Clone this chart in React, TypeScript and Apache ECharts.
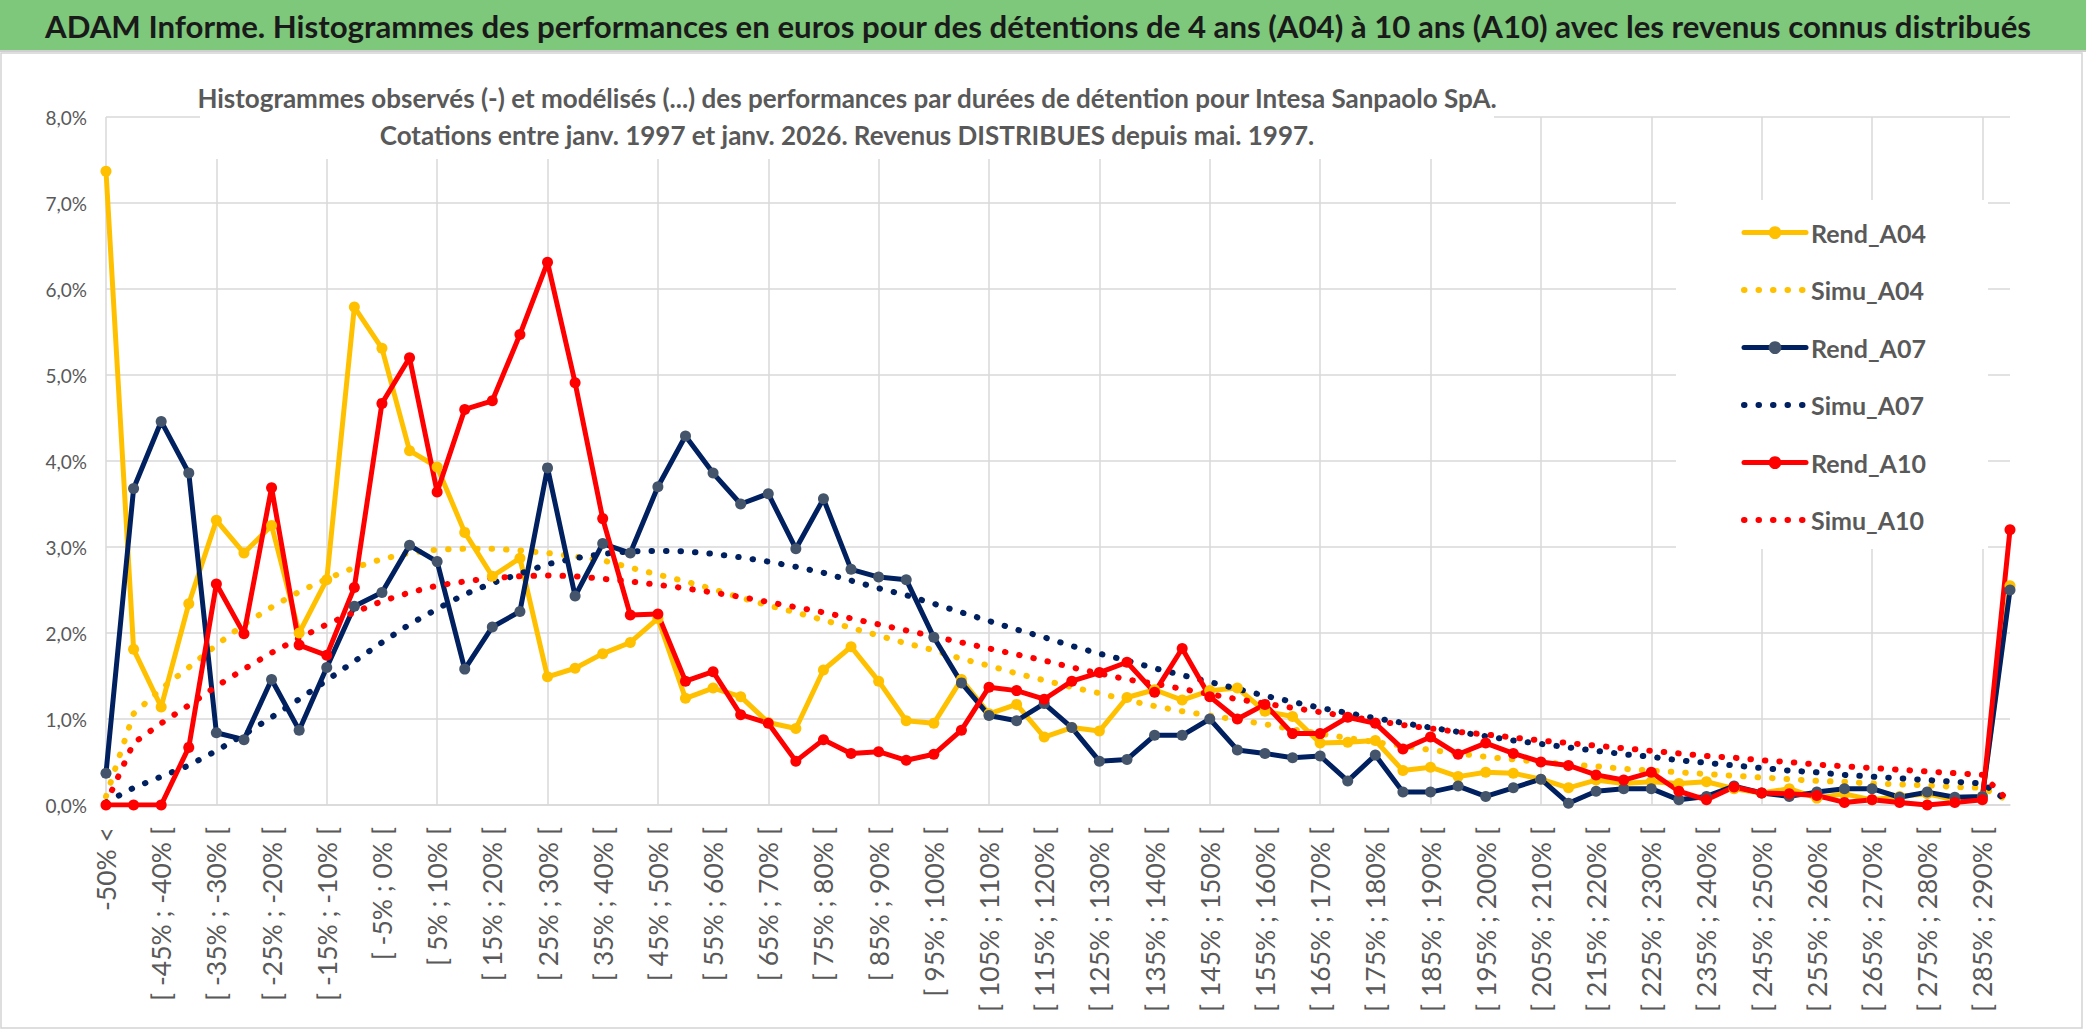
import React, { useEffect, useRef } from 'react';
import * as echarts from 'echarts';

const categories = [
  '-50% <', '[ -50% ; -45% [', '[ -45% ; -40% [', '[ -40% ; -35% [', '[ -35% ; -30% [', '[ -30% ; -25% [',
  '[ -25% ; -20% [', '[ -20% ; -15% [', '[ -15% ; -10% [', '[ -10% ; -5% [', '[ -5% ; 0% [', '[ 0% ; 5% [',
  '[ 5% ; 10% [', '[ 10% ; 15% [', '[ 15% ; 20% [', '[ 20% ; 25% [', '[ 25% ; 30% [', '[ 30% ; 35% [',
  '[ 35% ; 40% [', '[ 40% ; 45% [', '[ 45% ; 50% [', '[ 50% ; 55% [', '[ 55% ; 60% [', '[ 60% ; 65% [',
  '[ 65% ; 70% [', '[ 70% ; 75% [', '[ 75% ; 80% [', '[ 80% ; 85% [', '[ 85% ; 90% [', '[ 90% ; 95% [',
  '[ 95% ; 100% [', '[ 100% ; 105% [', '[ 105% ; 110% [', '[ 110% ; 115% [', '[ 115% ; 120% [', '[ 120% ; 125% [',
  '[ 125% ; 130% [', '[ 130% ; 135% [', '[ 135% ; 140% [', '[ 140% ; 145% [', '[ 145% ; 150% [', '[ 150% ; 155% [',
  '[ 155% ; 160% [', '[ 160% ; 165% [', '[ 165% ; 170% [', '[ 170% ; 175% [', '[ 175% ; 180% [', '[ 180% ; 185% [',
  '[ 185% ; 190% [', '[ 190% ; 195% [', '[ 195% ; 200% [', '[ 200% ; 205% [', '[ 205% ; 210% [', '[ 210% ; 215% [',
  '[ 215% ; 220% [', '[ 220% ; 225% [', '[ 225% ; 230% [', '[ 230% ; 235% [', '[ 235% ; 240% [', '[ 240% ; 245% [',
  '[ 245% ; 250% [', '[ 250% ; 255% [', '[ 255% ; 260% [', '[ 260% ; 265% [', '[ 265% ; 270% [', '[ 270% ; 275% [',
  '[ 275% ; 280% [', '[ 280% ; 285% [', '[ 285% ; 290% [', '> 290%',
];

const rendA04 = [
  7.37, 1.81, 1.14, 2.34, 3.31, 2.93, 3.25, 2.0, 2.62, 5.79,
  5.31, 4.12, 3.93, 3.17, 2.66, 2.87, 1.49, 1.59, 1.76, 1.89,
  2.17, 1.24, 1.36, 1.26, 0.96, 0.89, 1.57, 1.84, 1.44, 0.98,
  0.95, 1.46, 1.06, 1.17, 0.79, 0.9, 0.86, 1.25, 1.34, 1.22,
  1.33, 1.36, 1.09, 1.03, 0.72, 0.73, 0.75, 0.4, 0.44, 0.33,
  0.38, 0.37, 0.3, 0.2, 0.29, 0.25, 0.27, 0.25, 0.27, 0.19,
  0.14, 0.19, 0.08, 0.13, 0.06, 0.1, 0.13, 0.06, 0.1, 2.55,
];
const simuA04 = [
  0.1, 1.06, 1.35, 1.6, 1.86, 2.1, 2.3, 2.48, 2.63, 2.76,
  2.86, 2.93, 2.97, 2.98, 2.98, 2.96, 2.93, 2.89, 2.845, 2.76,
  2.68, 2.6, 2.51, 2.41, 2.32, 2.24, 2.15, 2.06, 1.97, 1.88,
  1.8, 1.7, 1.62, 1.53, 1.45, 1.37, 1.3, 1.22, 1.15, 1.09,
  1.04, 0.99, 0.94, 0.88, 0.83, 0.78, 0.73, 0.69, 0.64, 0.6,
  0.56, 0.53, 0.5, 0.47, 0.45, 0.42, 0.4, 0.38, 0.36, 0.34,
  0.32, 0.3, 0.28, 0.27, 0.25, 0.24, 0.23, 0.21, 0.2, 0.04,
];
const rendA07 = [
  0.37, 3.68, 4.46, 3.86, 0.84, 0.76, 1.46, 0.87, 1.6, 2.31,
  2.47, 3.02, 2.83, 1.58, 2.07, 2.25, 3.92, 2.43, 3.04, 2.93,
  3.7, 4.29, 3.86, 3.5, 3.62, 2.98, 3.56, 2.74, 2.65, 2.62,
  1.95, 1.42, 1.04, 0.98, 1.18, 0.9, 0.51, 0.53, 0.81, 0.81,
  1.0, 0.64, 0.6, 0.55, 0.57, 0.28, 0.58, 0.15, 0.15, 0.22,
  0.1, 0.2, 0.3, 0.02, 0.16, 0.19, 0.19, 0.06, 0.1, 0.22,
  0.14, 0.1, 0.15, 0.19, 0.19, 0.09, 0.15, 0.09, 0.1, 2.5,
];
const simuA07 = [
  0.03, 0.2, 0.33, 0.46, 0.63, 0.82, 1.02, 1.23, 1.45, 1.67,
  1.89, 2.1, 2.28, 2.45, 2.58, 2.69, 2.8, 2.87, 2.92, 2.95,
  2.955, 2.95, 2.92, 2.88, 2.83, 2.77, 2.7, 2.61, 2.52, 2.44,
  2.34, 2.24, 2.14, 2.04, 1.95, 1.85, 1.76, 1.68, 1.59, 1.51,
  1.43, 1.35, 1.27, 1.2, 1.13, 1.07, 1.01, 0.955, 0.9, 0.85,
  0.8, 0.75, 0.71, 0.67, 0.63, 0.59, 0.56, 0.52, 0.49, 0.46,
  0.43, 0.4, 0.38, 0.35, 0.33, 0.31, 0.29, 0.27, 0.25, 0.03,
];
const rendA10 = [
  0, 0, 0, 0.67, 2.57, 1.99, 3.69, 1.86, 1.74, 2.53,
  4.67, 5.2, 3.64, 4.6, 4.7, 5.47, 6.31, 4.91, 3.33, 2.21,
  2.22, 1.44, 1.55, 1.05, 0.95, 0.51, 0.76, 0.6, 0.62, 0.52,
  0.59, 0.87, 1.37, 1.33, 1.23, 1.44, 1.54, 1.66, 1.31, 1.82,
  1.26, 1.0, 1.17, 0.83, 0.83, 1.02, 0.95, 0.65, 0.79, 0.59,
  0.72, 0.6, 0.5, 0.46, 0.35, 0.29, 0.38, 0.16, 0.06, 0.21,
  0.14, 0.13, 0.11, 0.03, 0.06, 0.03, 0.0, 0.03, 0.06, 3.2,
];
const simuA10 = [
  0.02, 0.72, 0.95, 1.16, 1.38, 1.58, 1.77, 1.94, 2.1, 2.24,
  2.37, 2.47, 2.55, 2.6, 2.64, 2.66, 2.67, 2.66, 2.63, 2.6,
  2.56, 2.52, 2.47, 2.42, 2.36, 2.3, 2.24, 2.17, 2.1, 2.03,
  1.96, 1.89, 1.82, 1.75, 1.68, 1.6, 1.53, 1.46, 1.41, 1.35,
  1.29, 1.23, 1.18, 1.13, 1.08, 1.03, 0.98, 0.93, 0.89, 0.85,
  0.82, 0.785, 0.75, 0.72, 0.69, 0.66, 0.63, 0.6, 0.57, 0.55,
  0.52, 0.5, 0.47, 0.45, 0.43, 0.41, 0.39, 0.37, 0.35, 0.03,
];

const yTicks = { min: 0, max: 8, interval: 1 };

const TITLE = 'ADAM Informe. Histogrammes des performances en euros pour des détentions de 4 ans (A04) à 10 ans (A10) avec les revenus connus distribués';
const SUB1 = 'Histogrammes observés (-) et modélisés (...) des performances par durées de détention pour Intesa Sanpaolo SpA.';
const SUB2 = 'Cotations entre janv. 1997 et janv. 2026. Revenus DISTRIBUES depuis mai. 1997.';

const FONT = 'Lato, "Open Sans", "Noto Sans", sans-serif';
const GRIDC = '#d9d9d9';
const TXT = '#595959';
const GOLD = '#FFC000';
const NAVY = '#002060';
const NAVY_MARK = '#44546A';
const RED = '#FF0000';

const fmtPct = (v: number) => v.toFixed(1).replace('.', ',') + '%';

function rendSeries(name: string, data: number[], lineColor: string, markColor: string) {
  return {
    name,
    type: 'line',
    data,
    symbol: 'circle',
    symbolSize: 11,
    showSymbol: true,
    lineStyle: { color: lineColor, width: 5, join: 'round', cap: 'round' },
    itemStyle: { color: markColor },
    z: 3,
  };
}
function simuSeries(name: string, data: number[], color: string) {
  return {
    name,
    type: 'line',
    data,
    symbol: 'none',
    showSymbol: false,
    lineStyle: { color, width: 6, type: [0.5, 14], cap: 'round', join: 'round' },
    itemStyle: { color },
    z: 3,
  };
}

export default function App() {
  const ref = useRef<HTMLDivElement>(null);
  useEffect(() => {
    document.body.style.margin = '0';
    const chart = echarts.init(ref.current as HTMLDivElement, null, { renderer: 'svg' });
    const option: any = {
      animation: false,
      backgroundColor: '#ffffff',
      textStyle: { fontFamily: FONT },
      grid: { left: 106, right: 76, top: 117, bottom: 226, containLabel: false },
      xAxis: {
        type: 'category',
        data: categories,
        boundaryGap: false,
        axisLine: { show: true, lineStyle: { color: GRIDC, width: 1.5 } },
        axisTick: { show: false },
        axisLabel: {
          interval: 1,
          rotate: 90,
          margin: 22,
          fontSize: 26.5,
          color: TXT,
          fontFamily: FONT,
        },
        splitLine: { show: true, interval: 3, lineStyle: { color: GRIDC, width: 1.5 } },
      },
      yAxis: {
        type: 'value',
        min: yTicks.min,
        max: yTicks.max,
        interval: yTicks.interval,
        axisLine: { show: false },
        axisTick: { show: false },
        axisLabel: { formatter: fmtPct, fontSize: 19, color: TXT, margin: 19, fontFamily: FONT },
        splitLine: { show: true, lineStyle: { color: GRIDC, width: 1.5 } },
      },
      legend: {
        orient: 'vertical',
        left: 1741,
        top: 217.6,
        padding: 0,
        itemWidth: 62,
        itemHeight: 16,
        itemGap: 27.5,
        textStyle: { fontSize: 25, fontWeight: 'bold', color: TXT, lineHeight: 30, fontFamily: FONT },
        data: [
          { name: 'Rend_A04', lineStyle: { width: 5 } },
          { name: 'Simu_A04', lineStyle: { width: 6 }, itemStyle: { opacity: 0 } },
          { name: 'Rend_A07', lineStyle: { width: 5 } },
          { name: 'Simu_A07', lineStyle: { width: 6 }, itemStyle: { opacity: 0 } },
          { name: 'Rend_A10', lineStyle: { width: 5 } },
          { name: 'Simu_A10', lineStyle: { width: 6 }, itemStyle: { opacity: 0 } },
        ],
      },
      graphic: {
        elements: [
          { type: 'rect', z: 1, shape: { x: 0, y: 0, width: 2086, height: 50 }, style: { fill: '#7dc87b' } },
          { type: 'line', z: 1, shape: { x1: 0, y1: 51, x2: 2086, y2: 51 }, style: { stroke: '#cfcfcf', lineWidth: 2 } },
          { type: 'rect', z: 1, shape: { x: 1, y: 53, width: 2081, height: 975 }, style: { fill: 'none', stroke: '#d4d4d4', lineWidth: 1.5 } },
          {
            type: 'text', z: 2, x: 1038, y: 26,
            style: { text: TITLE, fontSize: 31.2, fontWeight: 'bold', fontFamily: FONT, fill: '#1a1a1a', align: 'center', verticalAlign: 'middle' },
          },
          { type: 'rect', z: 1, shape: { x: 200, y: 108, width: 1294, height: 51 }, style: { fill: '#ffffff' } },
          {
            type: 'text', z: 2, x: 847, y: 98,
            style: { text: SUB1, fontSize: 26, fontWeight: 'bold', fontFamily: FONT, fill: TXT, align: 'center', verticalAlign: 'middle' },
          },
          {
            type: 'text', z: 2, x: 847, y: 135,
            style: { text: SUB2, fontSize: 26, fontWeight: 'bold', fontFamily: FONT, fill: TXT, align: 'center', verticalAlign: 'middle' },
          },
          { type: 'rect', z: 1, shape: { x: 1676, y: 200, width: 312, height: 349 }, style: { fill: '#ffffff' } },
        ],
      },
      series: [
        rendSeries('Rend_A04', rendA04, GOLD, GOLD),
        simuSeries('Simu_A04', simuA04, GOLD),
        rendSeries('Rend_A07', rendA07, NAVY, NAVY_MARK),
        simuSeries('Simu_A07', simuA07, NAVY),
        rendSeries('Rend_A10', rendA10, RED, RED),
        simuSeries('Simu_A10', simuA10, RED),
      ],
    };
    chart.setOption(option);
    return () => chart.dispose();
  }, []);
  return <div ref={ref} style={{ position: 'absolute', left: 0, top: 0, width: 2086, height: 1031 }} />;
}
